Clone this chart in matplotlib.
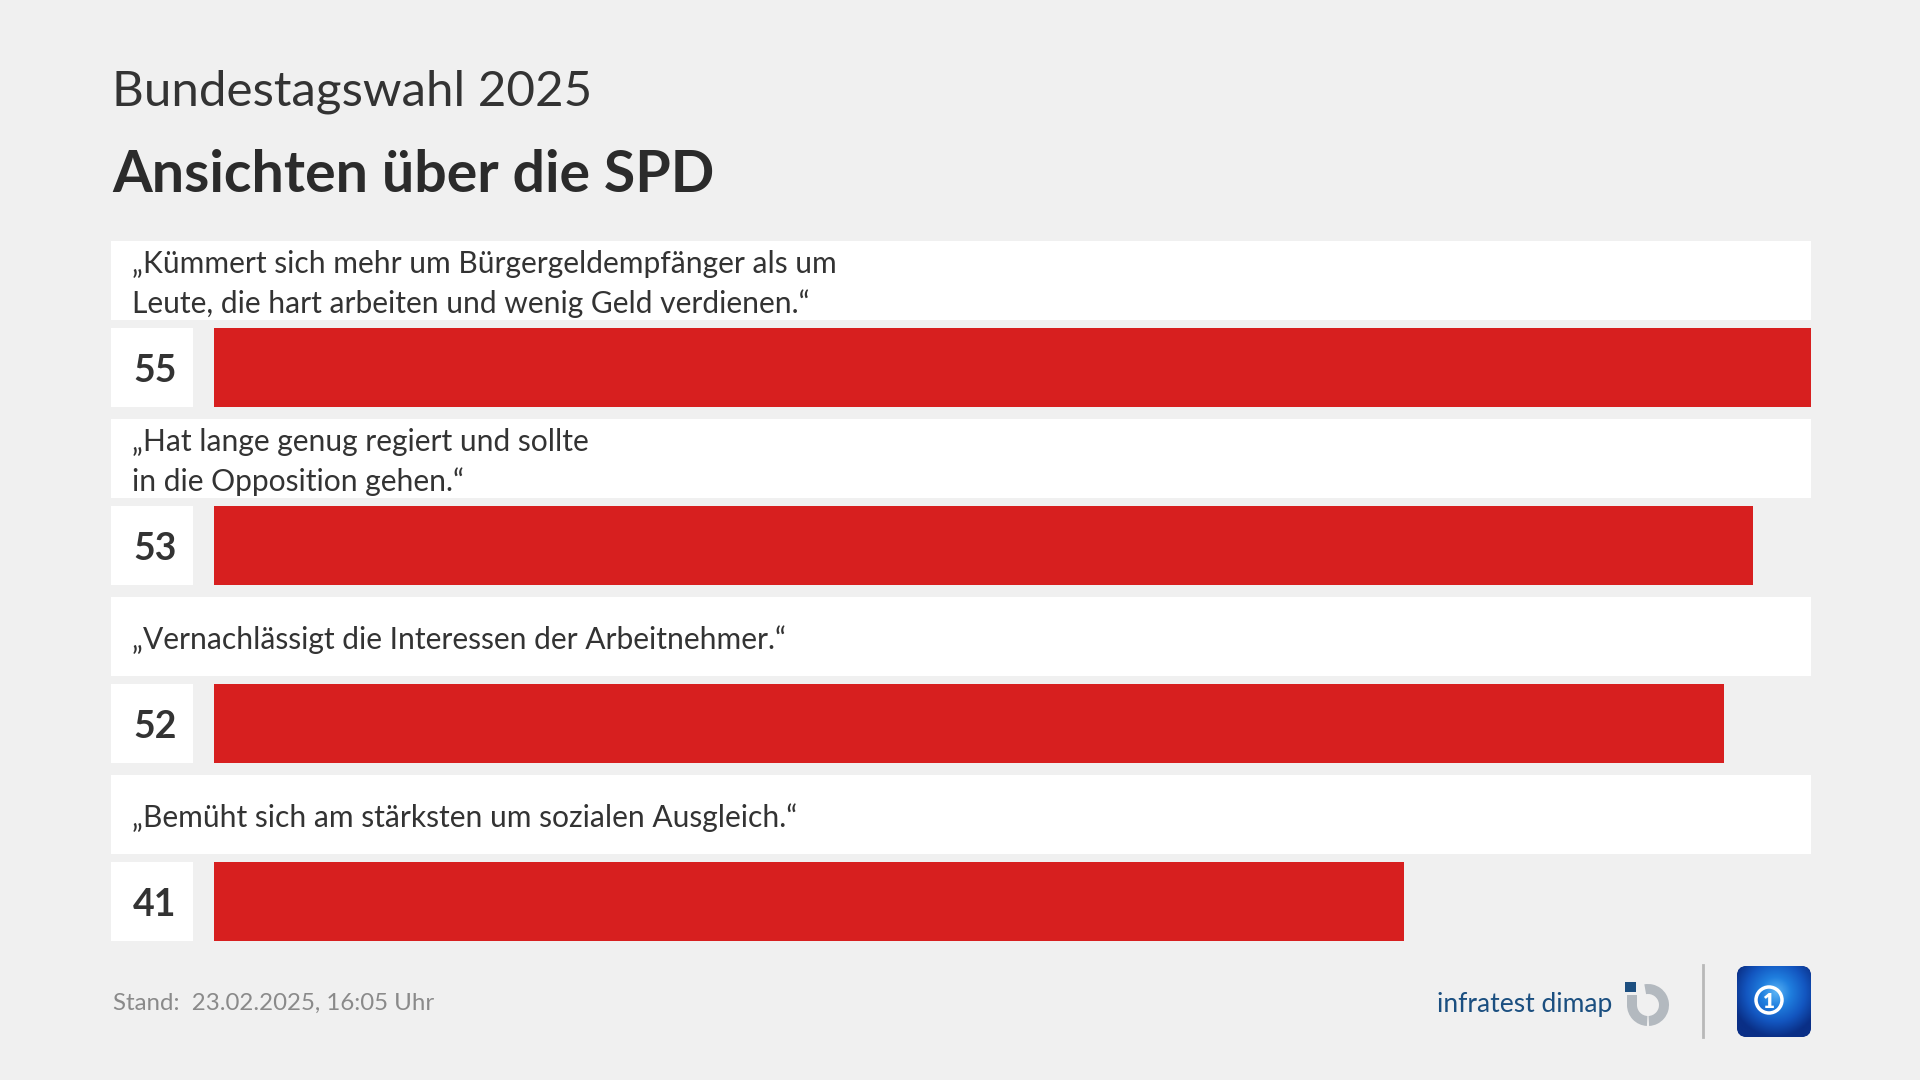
import numpy as np
import matplotlib.pyplot as plt
from matplotlib.colors import LinearSegmentedColormap
from matplotlib.patches import Rectangle, FancyBboxPatch, Wedge, Circle

# Daten
aussagen = [
    '„Kümmert sich mehr um Bürgergeldempfänger als um\nLeute, die hart arbeiten und wenig Geld verdienen.“',
    '„Hat lange genug regiert und sollte\nin die Opposition gehen.“',
    '„Vernachlässigt die Interessen der Arbeitnehmer.“',
    '„Bemüht sich am stärksten um sozialen Ausgleich.“',
]
werte = [55, 53, 52, 41]

obertitel = 'Bundestagswahl 2025'
titel = 'Ansichten über die SPD'
stand = 'Stand:  23.02.2025, 16:05 Uhr'

rot = '#d71f1f'
dunkel = '#333333'

plt.rcParams['font.family'] = ['Lato', 'DejaVu Sans']

fig = plt.figure(figsize=(19.2, 10.8), dpi=100)
fig.patch.set_facecolor('#f0f0f0')

# Hintergrund-Achse in Pixelkoordinaten (y nach unten)
bg = fig.add_axes([0, 0, 1, 1])
bg.set_xlim(0, 1920)
bg.set_ylim(1080, 0)
bg.axis('off')

# Layout (px)
links, rechts = 111, 1811
oben, abstand = 241, 178
h_box, h_bar, luecke = 79, 79.5, 7.5
zahl_rechts, bar_links = 193, 214

for i, (txt, w) in enumerate(zip(aussagen, werte)):
    y0 = oben + i * abstand
    bg.add_patch(Rectangle((links, y0), rechts - links, h_box, color='white', lw=0))
    bg.text(132, y0 + h_box / 2 + 3.5, txt, fontsize=21.6, color=dunkel,
            va='center', ha='left', linespacing=1.45)
    yb = y0 + h_box + luecke
    bg.add_patch(Rectangle((links, yb), zahl_rechts - links, h_bar, color='white', lw=0))
    bg.text(133, yb + h_bar / 2 + 15, str(w), fontsize=27, fontweight='bold',
            color=dunkel, va='baseline', ha='left')

# Balken
y_top = oben + h_box + luecke
y_bot = oben + (len(werte) - 1) * abstand + h_box + luecke + h_bar
ax = fig.add_axes([bar_links / 1920, 1 - y_bot / 1080,
                   (rechts - bar_links) / 1920, (y_bot - y_top) / 1080])
hb = h_bar / abstand
ax.barh(range(len(werte)), werte, height=hb, color=rot)
ax.set_xlim(0, max(werte))
ax.set_ylim(len(werte) - 1 + hb / 2, -hb / 2)
ax.axis('off')
ax.patch.set_alpha(0)

# Titel
bg.text(112, 106, obertitel, fontsize=35.5, fontweight='normal', color=dunkel, va='baseline')
bg.text(112, 192, titel, fontsize=41.2, fontweight='bold', color='#2b2b2b', va='baseline')

# Fußzeile
bg.text(113, 1010, stand, fontsize=17.3, color='#8a8a8a', va='baseline')
bg.text(1437, 1012, 'infratest dimap', fontsize=19, color='#1b4f80', va='baseline')

# infratest-Logo: grauer Ring mit Lücke, blauer Punkt
grau = '#b3b9bf'
bg.add_patch(Wedge((1648, 1005), 21, -100, 87, width=10, color=grau, lw=0))
bg.add_patch(Wedge((1648, 1005), 21, 93, 180, width=10, color=grau, lw=0))
bg.add_patch(Rectangle((1627, 995), 10, 10.5, color=grau, lw=0))
bg.add_patch(Rectangle((1625, 982), 11, 10, color='#1d4f80', lw=0))

# Trennlinie
bg.plot([1703, 1703], [965, 1037], color='#b8b8b8', lw=2)

# tagesschau-Icon
box = FancyBboxPatch((1740, 969), 68, 65, boxstyle='round,pad=3,rounding_size=10',
                     facecolor='#0b2f86', edgecolor='none', zorder=2)
bg.add_patch(box)
gx, gy = np.meshgrid(np.linspace(1737, 1811, 90), np.linspace(966, 1038, 90))
dist = np.sqrt((gx - 1776) ** 2 + (gy - 992) ** 2)
blau = LinearSegmentedColormap.from_list('globus', ['#5cb4f5', '#1f7ede', '#1356c0', '#0a2f86'])
img = bg.imshow(dist, cmap=blau, extent=(1737, 1811, 1038, 966), vmin=0, vmax=45,
                interpolation='bilinear', zorder=3)
img.set_clip_path(box)
bg.add_patch(Circle((1769, 1000), 13, fill=False, edgecolor='white', lw=2.5, zorder=4))
bg.text(1769, 1001, '1', fontsize=15, fontweight='heavy', color='white',
        ha='center', va='center', zorder=5)
bg.set_xlim(0, 1920)
bg.set_ylim(1080, 0)

fig.savefig('out.png', dpi=100, facecolor=fig.get_facecolor())
